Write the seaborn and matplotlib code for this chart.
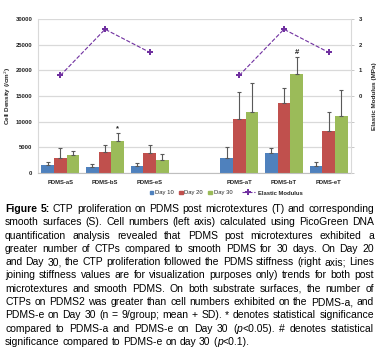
import numpy as np
import pandas as pd
import seaborn as sns
import matplotlib
matplotlib.use('Agg')
import matplotlib.pyplot as plt
from matplotlib.lines import Line2D
from matplotlib.patches import Patch

# ---- data ----
categories = ['PDMS-aS', 'PDMS-bS', 'PDMS-eS', ' ', 'PDMS-aT', 'PDMS-bT', 'PDMS-eT']
surfaces = ['PDMS-aS', 'PDMS-bS', 'PDMS-eS', 'PDMS-aT', 'PDMS-bT', 'PDMS-eT']
days = ['Day 10', 'Day 20', 'Day 30']

day10 = [1600, 1200, 1400, 2950, 3900, 1400]
day20 = [2900, 4100, 3800, 10600, 13700, 8200]
day30 = [3500, 6300, 2600, 11800, 19200, 11100]
sd10 = [500, 500, 550, 2200, 900, 700]
sd20 = [1900, 1350, 1700, 5250, 2800, 3750]
sd30 = [850, 1450, 1050, 5700, 3450, 5000]

modulus = [0.8, 2.6, 1.7, 0.8, 2.6, 1.7]
surface_group = ['S', 'S', 'S', 'T', 'T', 'T']

marks = {('PDMS-bS', 'Day 30'): '*', ('PDMS-bT', 'Day 30'): '#'}

caption_lines = [
    "Figure 5: CTP proliferation on PDMS post microtextures (T) and corresponding",
    "smooth surfaces (S). Cell numbers (left axis) calculated using PicoGreen DNA",
    "quantification analysis revealed that PDMS post microtextures exhibited a",
    "greater number of CTPs compared to smooth PDMS for 30 days. On Day 20",
    "and Day 30, the CTP proliferation followed the PDMS stiffness (right axis; Lines",
    "joining stiffness values are for visualization purposes only) trends for both post",
    "microtextures and smooth PDMS. On both substrate surfaces, the number of",
    "CTPs on PDMS2 was greater than cell numbers exhibited on the PDMS-a, and",
    "PDMS-e on Day 30 (n = 9/group; mean + SD). * denotes statistical significance",
    "compared to PDMS-a and PDMS-e on Day 30 (p<0.05). # denotes statistical",
    "significance compared to PDMS-e on day 30 (p<0.1).",
]

bar_colors = ['#4F81BD', '#C0504D', '#9BBB59']
purple = '#7030A0'

sns.set_style('white')
plt.rcParams['font.family'] = ['Liberation Sans', 'DejaVu Sans']

df = pd.DataFrame({
    'surface': surfaces * 3,
    'day': np.repeat(days, len(surfaces)),
    'density': day10 + day20 + day30,
    'sd': sd10 + sd20 + sd30,
})
sd_lookup = {(s, d): v for s, d, v in zip(df['surface'], df['day'], df['sd'])}

W, H = 381, 350
fig = plt.figure(figsize=(W / 100, H / 100), dpi=100)
ax = fig.add_axes([38 / W, 1 - 173 / H, 313 / W, 154 / H])

sns.barplot(df, x='surface', y='density', hue='day', order=categories,
            hue_order=days, palette=bar_colors, saturation=1, width=0.85, gap=0,
            errorbar=None, linewidth=0, legend=False, ax=ax)

# upward-only SD bars
for cont, day in zip(list(ax.containers), days):
    for bar in cont:
        xc = bar.get_x() + bar.get_width() / 2
        cat = categories[int(round(xc))]
        h = bar.get_height()
        sd = sd_lookup[(cat, day)]
        ax.errorbar(xc, h, yerr=[[0], [sd]], fmt='none', ecolor='#595959',
                    elinewidth=0.8, capsize=1.2, capthick=0.8, zorder=3)
        if (cat, day) in marks:
            ax.text(xc, h + sd + 150, marks[(cat, day)], ha='center', va='bottom',
                    fontsize=5.5, fontweight='bold', color='#222222')

ax.set_ylim(0, 30000)
ax.set_yticks(np.arange(0, 30001, 5000))
ax.yaxis.grid(True, color='#D9D9D9', linewidth=0.9)
ax.set_axisbelow(True)
ax.set_xlabel('')
ax.set_ylabel('Cell Density (/cm$^2$)', fontsize=4.6, fontweight='bold', labelpad=1.5)
ax.tick_params(axis='y', length=0, labelsize=4.2, pad=4, labelcolor='#222222')
ax.tick_params(axis='x', length=0, labelsize=4.2, pad=5, labelcolor='#222222')
for lab in ax.get_xticklabels() + ax.get_yticklabels():
    lab.set_fontweight('bold')
ax.spines['top'].set_visible(False)
ax.spines['right'].set_visible(False)
ax.spines['left'].set_color('#D9D9D9')
ax.spines['bottom'].set_color('#BFBFBF')

# elastic modulus on the right axis
ax2 = ax.twinx()
mod_df = pd.DataFrame({'pos': [categories.index(s) for s in surfaces],
                       'modulus': modulus, 'group': surface_group})
sns.lineplot(mod_df, x='pos', y='modulus', units='group', estimator=None,
             color=purple, linestyle='--', linewidth=0.8, marker='P',
             markersize=4, markeredgewidth=0, ax=ax2)
ax2.set_ylim(-3, 3)
ax2.set_yticks(np.arange(-3, 4))
ax2.set_yticklabels(['', '', '', '0', '1', '2', '3'])
ax2.tick_params(axis='y', length=2.5, width=0.6, color='#BFBFBF', labelsize=4.2,
                pad=3, labelcolor='#222222')
for lab in ax2.get_yticklabels():
    lab.set_fontweight('bold')
ax2.set_ylabel('Elastic Modulus (MPa)', fontsize=4.6, fontweight='bold', labelpad=7)
for side in ['top', 'left', 'bottom']:
    ax2.spines[side].set_visible(False)
ax2.spines['right'].set_color('#D9D9D9')
ax.set_xlim(-0.5, len(categories) - 0.5)

# legends
day_handles = [Patch(color=c, label=d) for c, d in zip(bar_colors, days)]
leg1 = fig.legend(handles=day_handles, loc='center', ncol=3, frameon=False,
                  bbox_to_anchor=(191 / W, 1 - 193 / H), fontsize=4.2,
                  handlelength=0.6, handleheight=0.6, handletextpad=0.3,
                  columnspacing=0.9)
mod_handle = [Line2D([0], [0], color=purple, linestyle='--', linewidth=0.8,
                     marker='P', markersize=4, markeredgewidth=0,
                     label='Elastic Modulus')]
leg2 = fig.legend(handles=mod_handle, loc='center', frameon=False,
                  bbox_to_anchor=(272 / W, 1 - 193 / H), fontsize=4.2,
                  handlelength=2.2, handletextpad=0.5)
for t in leg2.get_texts():
    t.set_fontweight('bold')

# justified caption
renderer = fig.canvas.get_renderer()


def measure(txt, size, style='normal', weight='normal'):
    t = fig.text(0, 0, txt, fontsize=size, fontstyle=style, fontweight=weight)
    w = t.get_window_extent(renderer).width
    t.remove()
    return w


def pieces_of(word, line_no, idx):
    if line_no == 0 and idx < 2:
        return [(word, 'normal', 'bold')]
    if word.startswith('(p<'):
        return [('(', 'normal', 'normal'), ('p', 'italic', 'normal'),
                (word[2:], 'normal', 'normal')]
    return [(word, 'normal', 'normal')]


x0, x1 = 5, 374
avail = x1 - x0


def natural_widths(size):
    out = []
    for i, line in enumerate(caption_lines):
        words = line.split(' ')
        ww = [sum(measure(p, size, s, w) for p, s, w in pieces_of(wd, i, k))
              for k, wd in enumerate(words)]
        out.append(ww)
    return out


base = 10
ww_base = natural_widths(base)
space_base = measure('a a', base) - measure('aa', base)
widest = max(sum(ww) + space_base * (len(ww) - 1) for ww in ww_base[:-1])
size = base * avail / widest * 0.995
ww_all = natural_widths(size)
space = measure('a a', size) - measure('aa', size)

for i, line in enumerate(caption_lines):
    words = line.split(' ')
    ww = ww_all[i]
    if i < len(caption_lines) - 1 and len(words) > 1:
        gap = (avail - sum(ww)) / (len(words) - 1)
    else:
        gap = space
    x = x0
    y = 1 - (212 + i * 13.3) / H
    for k, wd in enumerate(words):
        xp = x
        for p, s, w in pieces_of(wd, i, k):
            t = fig.text(xp / W, y, p, fontsize=size, fontstyle=s, fontweight=w,
                         va='baseline', ha='left', color='black')
            xp += t.get_window_extent(renderer).width
        x += ww[k] + gap

fig.savefig('out.png', dpi=100, facecolor='white')
